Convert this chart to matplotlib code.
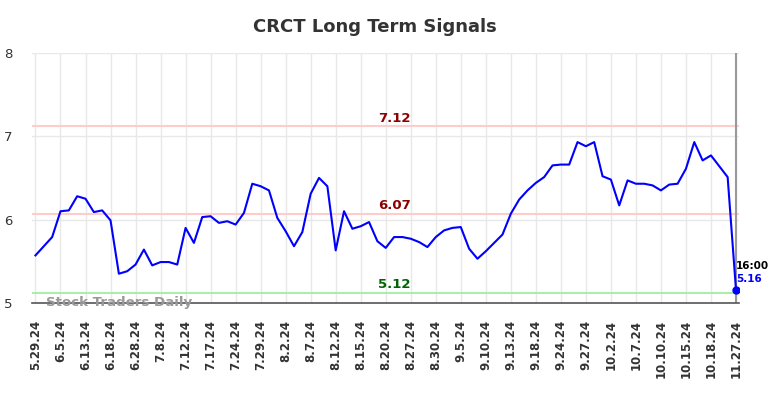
import numpy as np
import matplotlib.pyplot as plt

# signal values, 3 samples per labelled tick
prices = [5.57, 5.68, 5.79, 6.10, 6.11, 6.28, 6.25, 6.09, 6.11, 5.99,
          5.35, 5.38, 5.46, 5.64, 5.45, 5.49, 5.49, 5.46, 5.90, 5.72,
          6.03, 6.04, 5.96, 5.98, 5.94, 6.08, 6.43, 6.40, 6.35, 6.02,
          5.86, 5.68, 5.85, 6.31, 6.50, 6.40, 5.63, 6.10, 5.89, 5.92,
          5.97, 5.74, 5.66, 5.79, 5.79, 5.77, 5.73, 5.67, 5.79, 5.87,
          5.90, 5.91, 5.65, 5.53, 5.62, 5.72, 5.82, 6.07, 6.24, 6.35,
          6.44, 6.51, 6.65, 6.66, 6.66, 6.93, 6.88, 6.93, 6.52, 6.48,
          6.17, 6.47, 6.43, 6.43, 6.41, 6.35, 6.42, 6.43, 6.61, 6.93,
          6.71, 6.77, 6.64, 6.51, 5.16]
tick_labels = ['5.29.24', '6.5.24', '6.13.24', '6.18.24', '6.28.24', '7.8.24',
               '7.12.24', '7.17.24', '7.24.24', '7.29.24', '8.2.24', '8.7.24',
               '8.12.24', '8.15.24', '8.20.24', '8.27.24', '8.30.24', '9.5.24',
               '9.10.24', '9.13.24', '9.18.24', '9.24.24', '9.27.24', '10.2.24',
               '10.7.24', '10.10.24', '10.15.24', '10.18.24', '11.27.24']
resistance = [7.12, 6.07]
support = 5.12
last_time = '16:00'

x = np.arange(len(prices))
tick_pos = np.arange(0, len(prices), 3)

fig = plt.figure(figsize=(7.84, 3.98), dpi=100)
ax = fig.add_axes([0.041, 0.239, 0.902, 0.628])

ax.set_xlim(-0.4, x[-1] + 0.4)
ax.set_ylim(5, 8)
ax.set_yticks([5, 6, 7, 8])
ax.set_xticks(tick_pos)
ax.set_xticklabels(tick_labels, rotation=90, fontweight='bold', fontsize=8.5, color='#333333')
ax.tick_params(axis='y', labelsize=9.5, colors='#333333', length=0, pad=14)
ax.tick_params(axis='x', length=0, pad=12)
ax.grid(True, color='#e8e8e8', linewidth=1)
ax.set_axisbelow(True)
for s in ['top', 'right', 'left']:
    ax.spines[s].set_visible(False)
ax.spines['bottom'].set_color('#555555')
ax.spines['bottom'].set_linewidth(1.2)

mid = 43
for r in resistance:
    ax.axhline(r, color='#ffcccc', linewidth=1.5)
    ax.text(mid, r + 0.02, f'{r:.2f}', color='#8b0000', fontweight='bold',
            fontsize=9.5, ha='center', va='bottom')
ax.axhline(support, color='#a0eea0', linewidth=1.3)
ax.text(mid, support + 0.02, f'{support:.2f}', color='#006400', fontweight='bold',
        fontsize=9.5, ha='center', va='bottom')

ax.axvline(x[-1], color='#999999', linewidth=1.5)
ax.plot(x, prices, color='blue', linewidth=1.5)
ax.plot(x[-1], prices[-1], 'o', color='blue', markersize=5)
ax.text(x[-1], prices[-1] + 0.28, last_time, fontsize=7.5, fontweight='bold',
        color='black', ha='left', va='center')
ax.text(x[-1], prices[-1] + 0.13, f'{prices[-1]:.2f}', fontsize=7.5, fontweight='bold',
        color='blue', ha='left', va='center')

ax.text(1.3, 5.0, 'Stock Traders Daily', fontsize=9.6, fontweight='bold',
        color='#999999', ha='left', va='center')

fig.text(375 / 784, 1 - 27 / 398, 'CRCT Long Term Signals', fontsize=13,
         fontweight='bold', color='#333333', ha='center', va='center')

fig.savefig('out.png', dpi=100)
